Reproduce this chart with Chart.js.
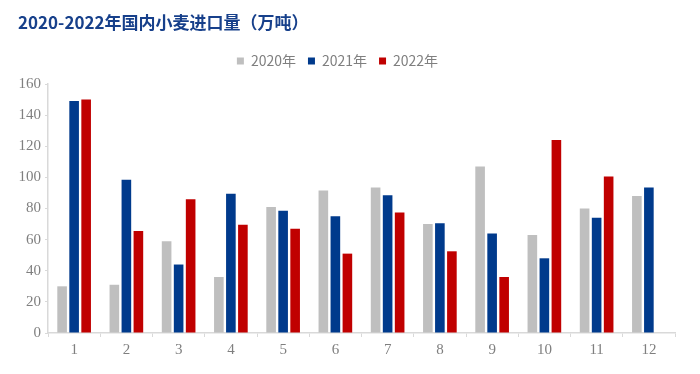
<!DOCTYPE html>
<html>
<head>
<meta charset="utf-8">
<script src="https://cdn.jsdelivr.net/npm/chart.js@4"></script>
<style>
  html, body { margin: 0; padding: 0; background: #fff; }
  #wrap { width: 700px; height: 374px; position: relative; }
</style>
</head>
<body>
<div id="wrap"><canvas id="importChart"></canvas></div>
<script>
const months = ["1", "2", "3", "4", "5", "6", "7", "8", "9", "10", "11", "12"];
const seriesNames = ["2020年", "2021年", "2022年"];
const imports2020 = [30, 31, 59, 36, 81, 91.5, 93.5, 70, 107, 63, 80, 88];
const imports2021 = [149, 98.5, 44, 89.5, 78.5, 75, 88.5, 70.5, 64, 48, 74, 93.5];
const imports2022 = [150, 65.5, 86, 69.5, 67, 51, 77.5, 52.5, 36, 124, 100.5, null];
const yTicks = [0, 20, 40, 60, 80, 100, 120, 140, 160];
const chartTitle = "2020-2022年国内小麦进口量（万吨）";

const colors = ["#bfbfbf", "#003a8c", "#c00000"];
const axisGray = "#d9d9d9";
const labelGray = "#7f7f7f";

// title drawn at a fixed spot, left of the plot
const titlePlugin = {
  id: "leftTitle",
  beforeInit(chart) {
    // a bit more room between legend and plot
    const origFit = chart.legend.fit;
    chart.legend.fit = function () {
      origFit.call(this);
      this.height += 6;
    };
  },
  afterDraw(chart) {
    const ctx = chart.ctx;
    ctx.save();
    ctx.font = "bold 17px 'Noto Sans CJK SC', 'Noto Sans', sans-serif";
    ctx.fillStyle = "#17408b";
    ctx.textBaseline = "middle";
    ctx.textAlign = "left";
    ctx.fillText(chartTitle, 18, 23);
    ctx.restore();
  },
};

const datasets = [imports2020, imports2021, imports2022].map((values, i) => ({
  label: seriesNames[i],
  data: values,
  backgroundColor: colors[i],
  borderWidth: 0,
  categoryPercentage: 0.69,
  barPercentage: 0.8,
}));

new Chart(document.getElementById("importChart"), {
  type: "bar",
  data: { labels: months, datasets },
  options: {
    responsive: true,
    maintainAspectRatio: false,
    animation: false,
    layout: { padding: { top: 42, right: 25, bottom: 11, left: 0 } },
    plugins: {
      legend: {
        position: "top",
        align: "center",
        labels: {
          boxWidth: 7,
          boxHeight: 7,
          padding: 12,
          color: labelGray,
          font: { family: "'Noto Sans CJK SC', 'Noto Sans', sans-serif", size: 14 },
        },
      },
      tooltip: { enabled: false },
    },
    scales: {
      x: {
        grid: {
          display: true,
          drawOnChartArea: false,
          drawTicks: true,
          tickLength: 4,
          color: axisGray,
          offset: true,
        },
        border: { color: axisGray, width: 1.5 },
        ticks: {
          color: labelGray,
          padding: 4,
          font: { family: "'Liberation Serif', serif", size: 15 },
        },
      },
      y: {
        min: 0,
        max: 160,
        afterBuildTicks: (scale) => {
          scale.ticks = yTicks.map((v) => ({ value: v }));
        },
        afterFit: (scale) => {
          scale.width = 48;
        },
        grid: {
          display: true,
          drawOnChartArea: false,
          drawTicks: true,
          tickLength: 3,
          color: axisGray,
        },
        border: { color: axisGray, width: 1.5 },
        ticks: {
          color: labelGray,
          padding: 4,
          font: { family: "'Liberation Serif', serif", size: 15 },
        },
      },
    },
  },
  plugins: [titlePlugin],
});
</script>
</body>
</html>
